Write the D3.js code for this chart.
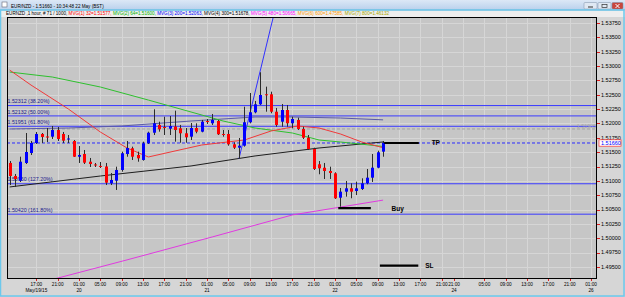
<!DOCTYPE html>
<html>
<head>
<meta charset="utf-8">
<script src="https://cdn.jsdelivr.net/npm/d3@7"></script>
<style>
html, body { margin: 0; padding: 0; background: #fff; overflow: hidden; }
svg { display: block; font-family: "Liberation Sans", Arial, sans-serif; }
</style>
</head>
<body>
<div id="chart"></div>
<script>
// ---- data ----
const titleText = "EUR/NZD - 1.51660 - 10:34:48 22 May (BST)";
const headerTexts = [
    "EURNZD ,1 hour, # 71 / 1000, ",
    "MVG(1) 32=1.51577, ",
    "MVG(2) 64=1.51600, ",
    "MVG(3) 200=1.52063, ",
    "MVG(4) 300=1.51678, ",
    "MVG(5) 480=1.50665, ",
    "MVG(6) 600=1.47585, ",
    "MVG(7) 800=1.46132"
];

// hourly bars, 19 May 12:00 .. 22 May 10:00
const opens = [1.51312,1.51085,1.51003,1.51312,1.51486,1.51660,1.51817,1.51773,1.51770,1.51886,
    1.51817,1.51721,1.51695,1.51421,1.51468,1.51334,1.51286,1.51260,1.51251,1.50958,
    1.51003,1.51190,1.51468,1.51568,1.51451,1.51364,1.51655,1.51839,1.51974,1.51939,
    1.51909,1.51947,1.51916,1.51829,1.51770,1.51921,1.51857,1.52043,1.52003,1.52043,
    1.51817,1.51817,1.51637,1.51578,1.51613,1.52021,1.52195,1.52334,1.52508,1.52508,
    1.52205,1.52031,1.52235,1.52003,1.52061,1.51904,1.51752,1.51555,1.51289,1.51230,
    1.51172,1.51132,1.50707,1.50812,1.50871,1.50824,1.50859,1.50958,1.51056,1.51230,1.51509];
const highs = [1.51346,1.51120,1.51421,1.51834,1.51695,1.51852,1.51834,1.51921,1.51956,1.51939,
    1.51852,1.51799,1.51712,1.51608,1.51538,1.51399,1.51312,1.51329,1.51312,1.51137,
    1.51247,1.51509,1.51695,1.51596,1.51509,1.51683,1.51857,1.52247,1.52031,1.52118,
    1.52130,1.52223,1.51974,1.51921,1.52008,1.52003,1.52061,1.52078,1.52165,1.52061,
    1.51886,1.51886,1.51672,1.51747,1.52292,1.52531,1.52392,1.52892,1.52641,1.52554,
    1.52270,1.52339,1.52322,1.52118,1.52101,1.51944,1.51799,1.51578,1.51346,1.51312,
    1.51247,1.51150,1.50876,1.50998,1.50958,1.50986,1.51045,1.51207,1.51468,1.51526,1.51695];
const lows = [1.50928,1.50894,1.50981,1.51294,1.51451,1.51643,1.51660,1.51677,1.51730,1.51695,
    1.51660,1.51660,1.51416,1.51312,1.51294,1.51242,1.51242,1.51225,1.50928,1.50928,
    1.50842,1.51160,1.51421,1.51364,1.51334,1.51352,1.51643,1.51799,1.51857,1.51799,
    1.51799,1.51683,1.51665,1.51665,1.51712,1.51829,1.51846,1.51991,1.51974,1.51799,
    1.51770,1.51613,1.51555,1.51393,1.51596,1.52003,1.52177,1.52322,1.52205,1.52177,
    1.51944,1.51944,1.51944,1.51916,1.51886,1.51730,1.51538,1.51190,1.51115,1.51033,
    1.51033,1.50685,1.50550,1.50725,1.50697,1.50754,1.50842,1.50941,1.50981,1.51219,1.51421];
const closes = [1.51085,1.51033,1.51334,1.51503,1.51660,1.51817,1.51765,1.51765,1.51886,1.51730,
    1.51700,1.51738,1.51421,1.51451,1.51317,1.51294,1.51268,1.51254,1.50969,1.51016,
    1.51190,1.51481,1.51573,1.51421,1.51393,1.51655,1.51839,1.52003,1.51899,1.51930,
    1.51956,1.51886,1.51829,1.51759,1.51921,1.51857,1.52031,1.52026,1.52061,1.51812,
    1.51812,1.51637,1.51578,1.51613,1.52021,1.52195,1.52334,1.52496,1.52501,1.52205,
    1.51974,1.52235,1.52003,1.52078,1.51904,1.51752,1.51555,1.51207,1.51219,1.51172,
    1.51137,1.50697,1.50812,1.50871,1.50812,1.50871,1.50958,1.51056,1.51230,1.51498,1.51660];

// moving averages, sampled at bar indices
const ma32Bars = [0, 4, 11, 17, 22, 26, 31, 36, 44, 49, 54, 58, 62, 66, 70];
const ma32 = [1.52930,1.52669,1.52252,1.51851,1.51573,1.51416,1.51521,1.51625,1.51712,1.51869,1.51956,1.51921,1.51817,1.51677,1.51577];
const ma64Bars = [0, 8, 17, 26, 34, 40, 46, 53, 58, 62, 70];
const ma64 = [1.52896,1.52809,1.52635,1.52408,1.52200,1.52043,1.51921,1.51834,1.51712,1.51677,1.51600];
const ma200Bars = [0, 11, 21, 34, 46, 53, 62, 70];
const ma200 = [1.51904,1.51921,1.51956,1.52043,1.52113,1.52113,1.52095,1.52063];
const ma300Bars = [0, 17, 34, 46, 58, 70];
const ma300 = [1.50894,1.51085,1.51260,1.51434,1.51573,1.51678];
const ma480Bars = [7, 22, 38, 53, 70];
const ma480 = [1.49258,1.49624,1.50024,1.50407,1.50665];

// fibonacci levels shown
const fibPrices = [1.52312, 1.52132, 1.51951, 1.50950, 1.50420];
const fibLabels = ["1.52312 (38.20%)", "1.52132 (50.00%)", "1.51951 (61.80%)", "1.50950 (127.20%)", "1.50420 (161.80%)"];

// hand-drawn objects
const trendBars = [43, 49.5];
const trendPrices = [1.51393, 1.53888];
const bidPrice = 1.51660;
const greyLinePrice = 1.51904;
const greyLineLabel = "1.51905";
const tradeNames = ["TP", "Buy", "SL"];
const tradePrices = [1.51660, 1.50524, 1.49525];
const tradeFromBar = [70.2, 61.6, 69.4];
const tradeToBar = [76.7, 67.7, 76.6];
const tradeLabelBar = [79.1, 71.6, 77.9];

// axes
const priceTicks = d3.range(0, 18).map(i => 1.4950 + i * 0.0025);
const timeTickBars = [5,9,13,17,21,25,29,33,37,41,45,49,53,57,61,65,69,73,77,81,83.3,89,93,97,101,105,109];
const timeTickLabels = ["17:00","21:00","01:00","05:00","09:00","13:00","17:00","21:00","01:00","05:00","09:00","13:00","17:00","21:00",
    "01:00","05:00","09:00","13:00","17:00","21:00","21:00","05:00","09:00","13:00","17:00","21:00","01:00"];
const dateLabels = {5: "May/19/15", 13: "20", 37: "21", 61: "22", 83.3: "24", 109: "26"};
const gridBars = d3.range(5, 111, 4);

// ---- layout ----
const W = 625, H = 297;
const plot = { left: 7, right: 597, top: 17, bottom: 279 };

const svg = d3.select("#chart").append("svg")
    .attr("width", W)
    .attr("height", H);

const x = d3.scaleLinear().domain([-0.5, 110.1]).range([plot.left, plot.right]);
const y = d3.scaleLinear().domain([1.4950, 1.5375]).range([267, 23]);

// window background
svg.append("rect").attr("width", W).attr("height", H).attr("fill", "#d6d6d6");

// title bar
const grad = svg.append("defs").append("linearGradient")
    .attr("id", "tb").attr("x1", 0).attr("y1", 0).attr("x2", 0).attr("y2", 1);
grad.append("stop").attr("offset", 0).attr("stop-color", "#dce8f6");
grad.append("stop").attr("offset", 1).attr("stop-color", "#b9d0ec");
svg.append("rect").attr("width", W).attr("height", 10).attr("fill", "url(#tb)");
svg.append("rect").attr("x", 2).attr("y", 2).attr("width", 5).attr("height", 5)
    .attr("fill", "#fff").attr("stroke", "#667").attr("stroke-width", 0.6);
svg.append("text").attr("x", 11).attr("y", 7.5)
    .attr("font-size", 4.6).attr("fill", "#000").text(titleText);

// window buttons
[[584, 13, "#dfe8f3"], [598, 13, "#dfe8f3"], [612, 11, "#c9463d"]].forEach(([bx, bw, c]) => {
    svg.append("rect").attr("x", bx).attr("y", 2.5).attr("width", bw).attr("height", 6.5)
        .attr("rx", 1).attr("fill", c).attr("stroke", "#7d8fa6").attr("stroke-width", 0.5);
});
svg.append("line").attr("x1", 588).attr("x2", 593).attr("y1", 7).attr("y2", 7).attr("stroke", "#333");
svg.append("rect").attr("x", 602).attr("y", 4.5).attr("width", 5).attr("height", 3)
    .attr("fill", "none").attr("stroke", "#333").attr("stroke-width", 0.7);
svg.append("path").attr("d", "M615.5,4L619.5,8M619.5,4L615.5,8").attr("stroke", "#fff").attr("stroke-width", 1);

// header strip
svg.append("rect").attr("x", 0).attr("y", 10).attr("width", W).attr("height", 7).attr("fill", "#eeeeee");
svg.append("line").attr("x1", 0).attr("x2", W).attr("y1", 10).attr("y2", 10).attr("stroke", "#8a9bb0").attr("stroke-width", 0.6);
const headerColors = ["#000", "#ff0000", "#00b400", "#0000ff", "#000", "#ff00ff", "#ff9900", "#a8a800"];
svg.append("text").attr("x", 6).attr("y", 15.3).attr("font-size", 4.6)
    .selectAll("tspan").data(headerTexts).join("tspan")
    .attr("fill", (d, i) => headerColors[i])
    .text(d => d);

// plot background
svg.append("rect")
    .attr("x", plot.left).attr("y", plot.top)
    .attr("width", plot.right - plot.left).attr("height", plot.bottom - plot.top)
    .attr("fill", "#c6c6c6");

svg.append("clipPath").attr("id", "clip").append("rect")
    .attr("x", plot.left).attr("y", plot.top)
    .attr("width", plot.right - plot.left).attr("height", plot.bottom - plot.top);
const g = svg.append("g").attr("clip-path", "url(#clip)");

// grid
g.selectAll(".hgrid").data(priceTicks).join("line")
    .attr("x1", plot.left).attr("x2", plot.right)
    .attr("y1", d => Math.round(y(d)) + 0.5).attr("y2", d => Math.round(y(d)) + 0.5)
    .attr("stroke", "#d6d6d6").attr("stroke-width", 1);
g.selectAll(".vgrid").data(gridBars).join("line")
    .attr("x1", d => Math.round(x(d)) + 0.5).attr("x2", d => Math.round(x(d)) + 0.5)
    .attr("y1", plot.top).attr("y2", plot.bottom)
    .attr("stroke", "#d6d6d6").attr("stroke-width", 1);

// fibonacci levels (background objects)
fibPrices.forEach((p, i) => {
    g.append("line")
        .attr("x1", plot.left).attr("x2", plot.right)
        .attr("y1", y(p)).attr("y2", y(p))
        .attr("stroke", "#3a3aff").attr("stroke-width", 1);
    g.append("text")
        .attr("x", plot.left + 0.5).attr("y", y(p) - 2.3)
        .attr("font-size", 5.3).attr("fill", "#1a1a8c")
        .text(fibLabels[i]);
});

// grey dashed line + faint label
g.append("line")
    .attr("x1", plot.left).attr("x2", plot.right)
    .attr("y1", y(greyLinePrice)).attr("y2", y(greyLinePrice))
    .attr("stroke", "#a2a2a2").attr("stroke-dasharray", "3,2");
g.append("text").attr("x", plot.right - 1).attr("y", y(greyLinePrice) - 1.2)
    .attr("text-anchor", "end").attr("font-size", 5.3).attr("fill", "#a8a8a8")
    .text(greyLineLabel);

// bid / TP dashed line
g.append("line")
    .attr("x1", plot.left).attr("x2", plot.right)
    .attr("y1", y(bidPrice)).attr("y2", y(bidPrice))
    .attr("stroke", "#2a2aff").attr("stroke-dasharray", "3,2");

// moving averages
const line = d3.line().x(d => x(d[0])).y(d => y(d[1]));
const maSeries = [
    [ma480Bars, ma480, "#e03ae0"],
    [ma300Bars, ma300, "#1e1e1e"],
    [ma200Bars, ma200, "#5a5aa8"],
    [ma64Bars, ma64, "#2ec02e"],
    [ma32Bars, ma32, "#f03a3a"]
];
maSeries.forEach(([bars, vals, color]) => {
    g.append("path")
        .datum(bars.map((b, i) => [b, vals[i]]))
        .attr("d", line)
        .attr("fill", "none")
        .attr("stroke", color)
        .attr("stroke-width", 1);
});

// blue trend line
g.append("path")
    .datum(trendBars.map((b, i) => [b, trendPrices[i]]))
    .attr("d", line)
    .attr("fill", "none").attr("stroke", "#3030ff").attr("stroke-width", 1);

// candles
const candles = opens.map((o, i) => ({ i, o, h: highs[i], l: lows[i], c: closes[i] }));
const cg = g.selectAll(".candle").data(candles).join("g");
cg.append("line")
    .attr("x1", d => Math.round(x(d.i)) + 0.5).attr("x2", d => Math.round(x(d.i)) + 0.5)
    .attr("y1", d => y(d.h)).attr("y2", d => y(d.l))
    .attr("stroke", "#2b2b2b").attr("stroke-width", 1);
cg.append("rect")
    .attr("x", d => Math.round(x(d.i)) - 1)
    .attr("width", 3)
    .attr("y", d => y(Math.max(d.o, d.c)))
    .attr("height", d => Math.max(1, Math.abs(y(d.o) - y(d.c))))
    .attr("fill", d => d.c >= d.o ? "#0000ff" : "#ff0000");

// trade levels
tradeNames.forEach((name, i) => {
    g.append("line")
        .attr("x1", x(tradeFromBar[i])).attr("x2", x(tradeToBar[i]))
        .attr("y1", y(tradePrices[i])).attr("y2", y(tradePrices[i]))
        .attr("stroke", "#000").attr("stroke-width", 2.2);
    g.append("text")
        .attr("x", x(tradeLabelBar[i])).attr("y", y(tradePrices[i]) + 2.3)
        .attr("font-size", 6.5).attr("font-weight", "bold").attr("fill", "#000")
        .text(name);
});

// plot border
svg.append("rect")
    .attr("x", plot.left + 0.5).attr("y", plot.top + 0.5)
    .attr("width", plot.right - plot.left - 1).attr("height", plot.bottom - plot.top - 1)
    .attr("fill", "none").attr("stroke", "#000").attr("stroke-width", 1);

// price axis
const pa = svg.append("g");
pa.selectAll("line").data(priceTicks).join("line")
    .attr("x1", plot.right).attr("x2", plot.right + 3)
    .attr("y1", d => Math.round(y(d)) + 0.5).attr("y2", d => Math.round(y(d)) + 0.5)
    .attr("stroke", "#e02020");
pa.selectAll("text").data(priceTicks).join("text")
    .attr("x", plot.right + 4).attr("y", d => y(d) + 1.8)
    .attr("font-size", 5.5).attr("fill", "#000")
    .text(d => d.toFixed(5));

// current price label
svg.append("rect").attr("x", plot.right + 2).attr("y", y(bidPrice) - 3.2)
    .attr("width", 22).attr("height", 6.4)
    .attr("fill", "#fff").attr("stroke", "#ff3030").attr("stroke-width", 0.7);
svg.append("text").attr("x", plot.right + 4).attr("y", y(bidPrice) + 1.8)
    .attr("font-size", 5.5).attr("fill", "#0000ff").text(bidPrice.toFixed(5));

// time axis
const ta = svg.append("g");
ta.selectAll("line").data(timeTickBars).join("line")
    .attr("x1", d => Math.round(x(d)) + 0.5).attr("x2", d => Math.round(x(d)) + 0.5)
    .attr("y1", plot.bottom).attr("y2", plot.bottom + 2)
    .attr("stroke", "#e02020");
ta.selectAll("text.t").data(timeTickBars).join("text")
    .attr("class", "t")
    .attr("x", d => x(d)).attr("y", plot.bottom + 6.5)
    .attr("text-anchor", "middle").attr("font-size", 4.7).attr("fill", "#000")
    .text((d, i) => timeTickLabels[i]);
ta.selectAll("text.d").data(Object.keys(dateLabels)).join("text")
    .attr("class", "d")
    .attr("x", d => x(+d)).attr("y", plot.bottom + 12.5)
    .attr("text-anchor", "middle").attr("font-size", 4.7).attr("fill", "#000")
    .text(d => dateLabels[d]);

// outer window frame
svg.append("rect").attr("x", 0.5).attr("y", 10).attr("width", W - 1.5).attr("height", H - 11)
    .attr("fill", "none").attr("stroke", "#6cc8ec").attr("stroke-width", 1.5);
</script>
</body>
</html>
